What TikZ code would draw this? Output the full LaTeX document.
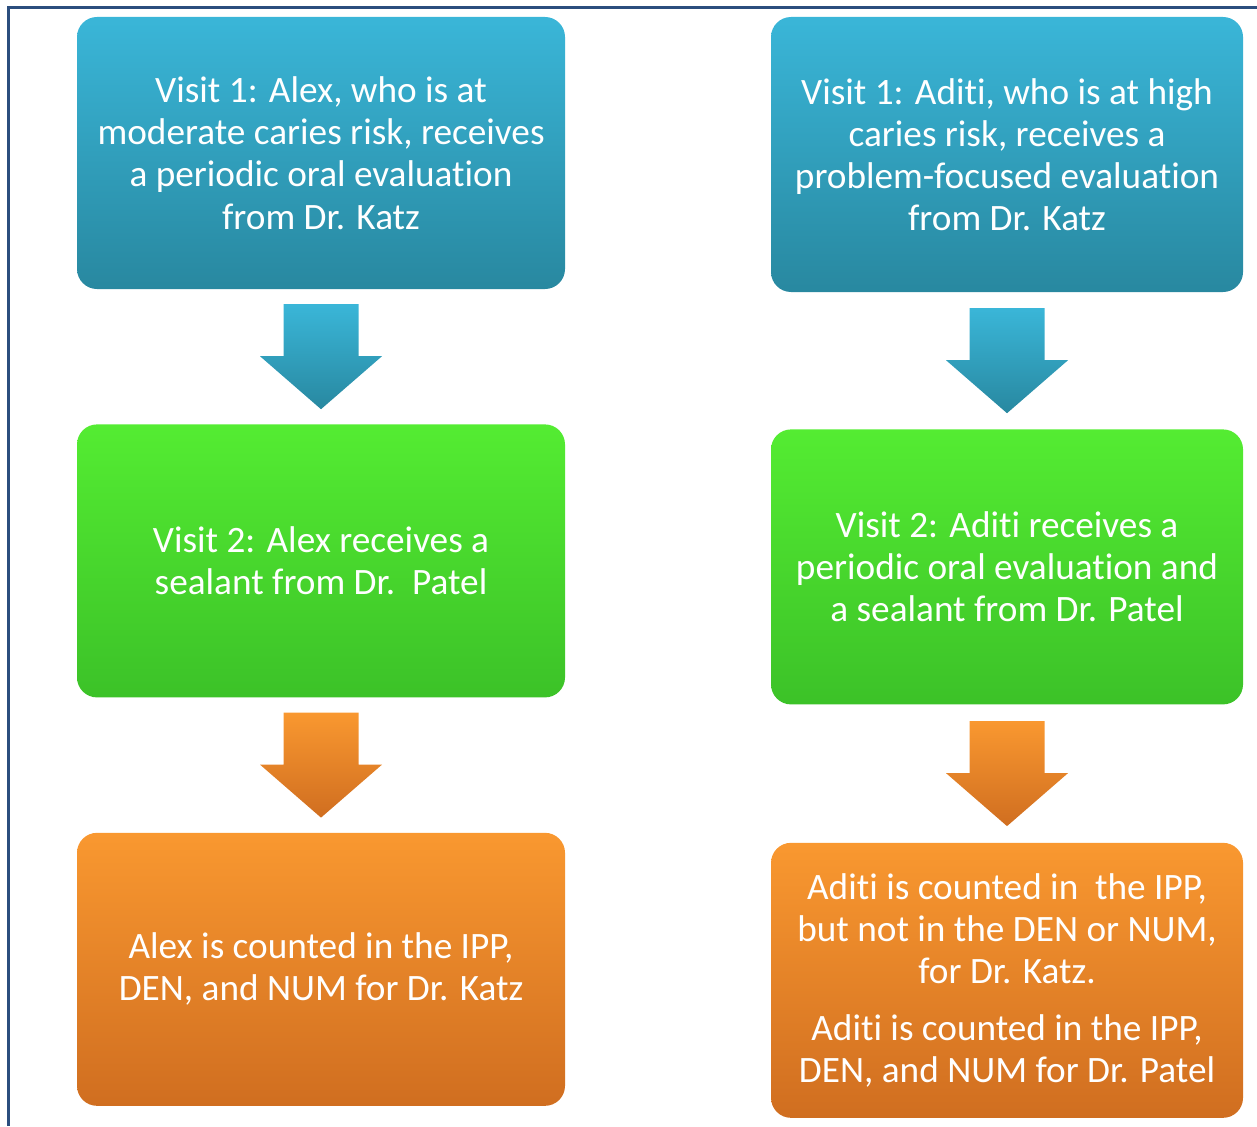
\documentclass[tikz,border=0pt]{standalone}
\usepackage{fontspec}
\setmainfont{Carlito}[Ligatures=NoCommon]
\usetikzlibrary{positioning,calc}

\definecolor{frameblue}{RGB}{43,78,126}
\definecolor{bluetop}{RGB}{58,182,216}
\definecolor{bluebot}{RGB}{40,136,160}
\definecolor{greentop}{RGB}{84,236,50}
\definecolor{greenbot}{RGB}{60,194,40}
\definecolor{orangetop}{RGB}{249,152,48}
\definecolor{orangebot}{RGB}{208,110,32}

% block arrow half way between two boxes
\newcommand\flowarrow[4]{%
    \path ($(#1.south)!0.5!(#2.north)$) coordinate (#1#2);
    \shade[top color=#3,bottom color=#4]
        ([shift={(-0.375,0.525)}]#1#2) -- ++(0.75,0) -- ++(0,-0.52)
        -- ++(0.235,0) -- ([shift={(0,-0.525)}]#1#2)
        -- ([shift={(-0.61,0.005)}]#1#2) -- ++(0.235,0) -- cycle;
}

\begin{document}
\begin{tikzpicture}
    \tikzset{
        card/.style={rectangle,rounded corners=0.2cm,align=center,
            text=white,inner sep=0pt,font=\fontsize{10.6}{12}\selectfont},
        bluecard/.style={card,top color=bluetop,bottom color=bluebot},
        greencard/.style={card,top color=greentop,bottom color=greenbot},
        orangecard/.style={card,top color=orangetop,bottom color=orangebot},
        node distance=1.34cm
    }
    \useasboundingbox (0,0) rectangle (12.57,-11.26);
    \draw[frameblue,line width=0.03cm] (0.08,-11.26) -- (0.08,-0.08) -- (12.57,-0.08);

    % Alex
    \node[bluecard,minimum width=4.88cm,minimum height=2.72cm] (alex1) at (3.21,-1.53)
        {Visit 1: Alex, who is at\\ moderate caries risk, receives\\ a periodic oral evaluation\\ from Dr. Katz};
    \node[greencard,minimum width=4.88cm,minimum height=2.73cm,below=of alex1] (alex2)
        {Visit 2: Alex receives a\\ sealant from Dr.\ \ Patel};
    \node[orangecard,minimum width=4.88cm,minimum height=2.73cm,below=of alex2] (alex3)
        {Alex is counted in the IPP,\\ DEN, and NUM for Dr. Katz};

    % Aditi
    \node[bluecard,minimum width=4.72cm,minimum height=2.75cm] (aditi1) at (10.07,-1.545)
        {Visit 1: Aditi, who is at high\\ caries risk, receives a\\ problem-focused evaluation\\ from Dr. Katz};
    \node[greencard,minimum width=4.72cm,minimum height=2.75cm,below=1.36cm of aditi1] (aditi2)
        {Visit 2: Aditi receives a\\ periodic oral evaluation and\\ a sealant from Dr. Patel};
    \node[orangecard,minimum width=4.72cm,minimum height=2.75cm,below=1.37cm of aditi2] (aditi3)
        {Aditi is counted in\ \ the IPP,\\ but not in the DEN or NUM,\\ for Dr. Katz.\\[0.14cm]
         Aditi is counted in the IPP,\\ DEN, and NUM for Dr. Patel};

    \flowarrow{alex1}{alex2}{bluetop}{bluebot}
    \flowarrow{alex2}{alex3}{orangetop}{orangebot}
    \flowarrow{aditi1}{aditi2}{bluetop}{bluebot}
    \flowarrow{aditi2}{aditi3}{orangetop}{orangebot}
\end{tikzpicture}
\end{document}
